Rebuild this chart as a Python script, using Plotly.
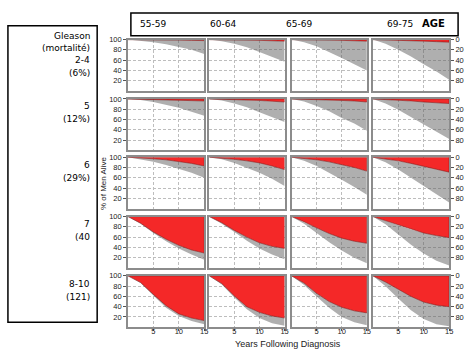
import plotly.graph_objects as go

W, H = 473, 351

years = [0, 2.5, 5, 7.5, 10, 12.5, 15]
age_groups = ["55-59", "60-64", "65-69", "69-75"]
gleason_groups = ["2-4", "5", "6", "7", "8-10"]
gleason_mortality = ["(6%)", "(12%)", "(29%)", "(40", "(121)"]

# % alive (lower edge of the grey band), one list per age group
alive_2_4 = [[100, 98, 95, 91, 86, 80, 72],
             [100, 97, 92, 85, 76, 67, 57],
             [100, 95, 87, 76, 64, 52, 40],
             [100, 92, 80, 67, 52, 38, 22]]
alive_5 = [[100, 98, 94, 88, 83, 75, 67],
           [100, 97, 91, 84, 74, 65, 55],
           [100, 95, 86, 76, 63, 52, 38],
           [100, 91, 79, 65, 50, 36, 22]]
alive_6 = [[100, 96, 91, 85, 78, 70, 60],
           [100, 96, 89, 80, 70, 58, 44],
           [100, 93, 83, 70, 56, 42, 27],
           [100, 90, 76, 60, 44, 28, 12]]
alive_7 = [[100, 86, 68, 52, 38, 26, 16],
           [100, 86, 70, 53, 38, 26, 17],
           [100, 86, 68, 50, 34, 20, 9],
           [100, 85, 65, 45, 28, 14, 5]]
alive_8_10 = [[100, 86, 62, 38, 22, 12, 6],
              [100, 83, 58, 35, 18, 8, 3],
              [100, 82, 60, 38, 20, 10, 4],
              [100, 80, 56, 33, 16, 6, 2]]

# 100 - % dead of prostate cancer (lower edge of the red band)
cancer_2_4 = [[100, 100, 100, 99.5, 99, 98.5, 98],
              [100, 100, 99.5, 99, 98.5, 98, 97],
              [100, 100, 99.5, 99, 98.5, 98, 97],
              [100, 99.5, 99, 98, 97, 96, 95]]
cancer_5 = [[100, 99.5, 99, 98.5, 98, 97, 96],
            [100, 99.5, 99, 98, 97, 95.5, 94],
            [100, 99.5, 99, 98, 97, 96, 94],
            [100, 99, 97.5, 96, 94, 92.5, 91]]
cancer_6 = [[100, 99, 97, 95, 92, 88, 83],
            [100, 98.5, 96, 93, 89, 83, 76],
            [100, 98, 95, 91, 86, 80, 73],
            [100, 97, 93, 88, 82, 76, 71]]
cancer_7 = [[100, 87, 70, 56, 44, 35, 29],
            [100, 88, 73, 60, 49, 42, 38],
            [100, 90, 78, 67, 58, 52, 48],
            [100, 92, 83, 75, 68, 63, 59]]
cancer_8_10 = [[100, 87, 64, 42, 26, 18, 13],
               [100, 85, 61, 40, 29, 22, 18],
               [100, 86, 66, 50, 39, 32, 28],
               [100, 88, 74, 60, 49, 43, 40]]

alive_all = [alive_2_4, alive_5, alive_6, alive_7, alive_8_10]
cancer_all = [cancer_2_4, cancer_5, cancer_6, cancer_7, cancer_8_10]

left_ticks = [20, 40, 60, 80, 100]
right_ticktext = ["80", "60", "40", "20", "0"]
x_ticks = [5, 10, 15]

RED = "#f42828"
GREY = "rgba(95,95,95,0.5)"
FRAME = "#8c8c8c"
GRID = "#bdbdbd"
TICKFONT = dict(family="Liberation Sans, Arial", size=7.5, color="#222")

col_x0 = [129, 211, 294, 376]
col_x1 = [206, 287, 370, 453]
row_top = [36, 96, 155, 215, 275]
panel_h = 52

fig = go.Figure()
layout = {}
idx = 0
for r in range(5):
    for c in range(4):
        idx += 1
        sfx = "" if idx == 1 else str(idx)
        xa, ya = "x" + sfx, "y" + sfx
        alive = alive_all[r][c]
        canc = cancer_all[r][c]
        # grey band (other causes)
        fig.add_trace(go.Scatter(
            x=years + years[::-1], y=alive + canc[::-1], fill="toself",
            fillcolor=GREY, line=dict(width=0), mode="lines",
            xaxis=xa, yaxis=ya, hoverinfo="skip", showlegend=False))
        # red band (prostate cancer)
        fig.add_trace(go.Scatter(
            x=years + [years[-1], years[0]], y=canc + [100, 100], fill="toself",
            fillcolor=RED, line=dict(width=0.6, color="#7a1c1c"), mode="lines",
            xaxis=xa, yaxis=ya, hoverinfo="skip", showlegend=False))
        xd = [col_x0[c] / W, col_x1[c] / W]
        yd = [1 - (row_top[r] + panel_h) / H, 1 - row_top[r] / H]
        layout["xaxis" + sfx] = dict(
            domain=xd, range=[0, 15], anchor=ya, showgrid=True,
            gridcolor=GRID, griddash="3px,2px", gridwidth=0.8,
            tickvals=x_ticks, showticklabels=(r == 4),
            ticks="outside" if r == 4 else "", ticklen=2, tickcolor="#555",
            ticklabelstandoff=-6,
            tickfont=TICKFONT, showline=True, linecolor=FRAME, linewidth=1.5,
            mirror=True, zeroline=False, fixedrange=True)
        yax = dict(
            domain=yd, range=[0, 100], anchor=xa, showgrid=True,
            gridcolor=GRID, griddash="3px,2px", gridwidth=0.8,
            tickvals=left_ticks, showticklabels=False, ticks="",
            tickfont=TICKFONT, showline=True, linecolor=FRAME, linewidth=1.5,
            mirror=True, zeroline=False, fixedrange=True)
        if c == 0:
            yax.update(showticklabels=True, ticks="outside", ticklen=3,
                       tickcolor="#555")
        if c == 3:
            yax.update(side="right", showticklabels=True, ticks="outside",
                       ticklen=3, tickcolor="#555", ticktext=right_ticktext)
        layout["yaxis" + sfx] = yax

shapes = [
    dict(type="rect", xref="paper", yref="paper",
         x0=8 / W, x1=98 / W, y0=1 - 322 / H, y1=1 - 22 / H,
         line=dict(color="black", width=1.5)),
    dict(type="rect", xref="paper", yref="paper",
         x0=132 / W, x1=462 / W, y0=1 - 32 / H, y1=1 - 9 / H,
         line=dict(color="black", width=1.5)),
]

BOXFONT = dict(family="DejaVu Sans", size=9, color="black")
annotations = []

def ann(text, x, y, xanchor="left", font=BOXFONT, **kw):
    annotations.append(dict(text=text, x=x / W, y=1 - y / H, xref="paper",
                            yref="paper", xanchor=xanchor, yanchor="middle",
                            showarrow=False, font=font, **kw))

age_x = [139, 210, 286, 388]
for a, xx in zip(age_groups, age_x):
    ann(a, xx, 20)
ann("<b>AGE</b>", 424, 20, font=dict(family="DejaVu Sans", size=10, color="black"))

ann("Gleason", 93, 32, xanchor="right")
ann("(mortalité)", 93, 45, xanchor="right")
label_y = [(57, 70), (103, 116), (163, 176), (223, 236), (283, 296)]
for g, m, (y1, y2) in zip(gleason_groups, gleason_mortality, label_y):
    ann(g, 93, y1, xanchor="right")
    ann(m, 93, y2, xanchor="right")

ann("% of Men Alive", 105, 182, xanchor="center",
    font=dict(family="Liberation Sans, Arial", size=8, color="#222"), textangle=-90)
ann("Years Following Diagnosis", 290, 344, xanchor="center",
    font=dict(family="Liberation Sans, Arial", size=9, color="#222"))

fig.update_layout(
    **layout, width=W, height=H, margin=dict(l=0, r=0, t=0, b=0),
    paper_bgcolor="white", plot_bgcolor="white",
    shapes=shapes, annotations=annotations, showlegend=False)

fig.write_html("out.html", config={"displayModeBar": False})
